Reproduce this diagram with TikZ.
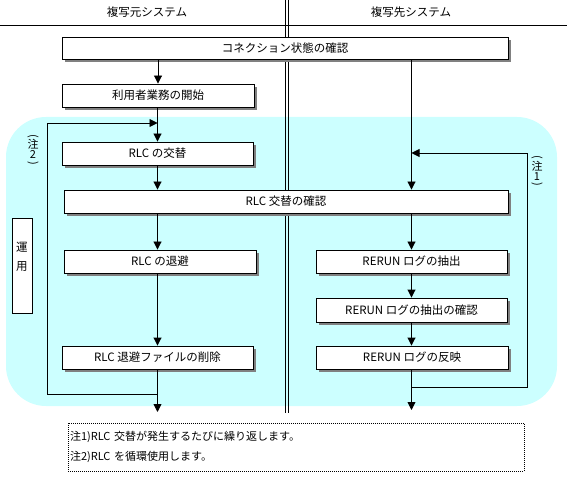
\documentclass[tikz,border=0pt]{standalone}
\usepackage{fontspec}
\setmainfont{Noto Sans CJK JP}
\usetikzlibrary{arrows.meta,shadows}
\definecolor{bgcyan}{HTML}{CCFFFF}
\definecolor{shadowgray}{HTML}{808080}
\newcommand{\vparl}{\rotatebox[origin=c]{-90}{(}}
\newcommand{\vparr}{\rotatebox[origin=c]{-90}{)}}
\begin{document}
\begin{tikzpicture}[x=1pt,y=-1pt,
  every node/.style={font=\fontsize{11.5}{13}\selectfont, inner sep=0pt},
  box/.style={draw=black, line width=0.9pt, fill=white,
    drop shadow={shadow xshift=3pt, shadow yshift=-3pt, fill=shadowgray, opacity=1}},
  ln/.style={line width=0.9pt},
  arr/.style={ln, -{Triangle[width=8pt,length=8pt]}},
  vtext/.style={align=center, font=\fontsize{11}{10}\selectfont},
]
\useasboundingbox (0,0) rectangle (567,478);
% background
\fill[bgcyan, rounded corners=40pt] (6,117) rectangle (557,406);
% header
\node (hL) at (147,12) {複写元システム};
\node (hR) at (411,12) {複写先システム};
\draw[ln] (0,25) -- (567,25);
\draw[line width=0.8pt] (285,0) -- (285,413);
\draw[line width=0.8pt] (288.5,0) -- (288.5,413);
% boxes
\node[box, minimum width=446pt, minimum height=22pt] (b1) at (285,48) {コネクション状態の確認};
\node[box, minimum width=192pt, minimum height=23pt] (b2) at (158,95.5) {利用者業務の開始};
\node[box, minimum width=191pt, minimum height=23pt] (b3) at (157.5,153.5) {RLC の交替};
\node[box, minimum width=444pt, minimum height=23pt] (b4) at (286,201.5) {RLC 交替の確認};
\node[box, minimum width=192pt, minimum height=23pt] (b5) at (160,261.5) {RLC の退避};
\node[box, minimum width=191pt, minimum height=23pt] (b6) at (157.5,357.5) {RLC 退避ファイルの削除};
\node[box, minimum width=191pt, minimum height=23pt] (b7) at (411.5,261.5) {RERUN ログの抽出};
\node[box, minimum width=191pt, minimum height=24pt] (b8) at (411.5,310) {RERUN ログの抽出の確認};
\node[box, minimum width=192pt, minimum height=23pt] (b9) at (412,357.5) {RERUN ログの反映};
\node[draw, ln, fill=white, minimum width=20pt, minimum height=95pt] (unyo) at (22,265.5) {};
\node[align=center, font=\fontsize{11.5}{19}\selectfont] (unyoT) at (22,257) {運\\用};
% side notes
\node[vtext] (n2) at (33,150.5) {\vparl\\[-1pt]注\\2\\[-2pt]\vparr};
\node[vtext] (n1) at (537,172) {\vparl\\[-1pt]注\\1\\[-2pt]\vparr};
% free ends
\coordinate (endL) at (157.5,412);
\coordinate (endR) at (411.5,410);
\coordinate (lpL1) at (47,394);
\coordinate (lpL2) at (47,123);
\coordinate (lpR1) at (527,387);
\coordinate (lpR2) at (527,153);
% left column
\draw[arr] (b1.south -| b2.north) -- (b2.north);
\draw[arr] (b2.south -| b3.north) -- (b3.north);
\draw[arr] (b3.south) -- (b3.south |- b4.north);
\draw[arr] (b4.south -| b3.south) -- (b5.north -| b3.south);
\draw[arr] (b5.south -| b6.north) -- (b6.north);
\draw[arr] (b6.south) -- (endL);
\draw[arr] (b6.south |- lpL1) -- (lpL1) -- (lpL2) -- (b3.north |- lpL2);
% right column
\draw[arr] (b1.south -| b7.north) -- (b4.north -| b7.north);
\draw[arr] (b4.south -| b7.north) -- (b7.north);
\draw[arr] (b7.south) -- (b8.north);
\draw[arr] (b8.south) -- (b8.south |- b9.north);
\draw[arr] (b9.south -| endR) -- (endR);
\draw[arr] (endR |- lpR1) -- (lpR1) -- (lpR2) -- (b7.north |- lpR2);
% note box
\node[draw, line width=0.8pt, dash pattern=on 1pt off 1pt, minimum width=456pt, minimum height=48pt,
  text width=452pt, align=left, inner xsep=2pt, font=\fontsize{11}{20}\selectfont] (note) at (296,447)
  {注1)RLC 交替が発生するたびに繰り返します。\\注2)RLC を循環使用します。};
\end{tikzpicture}
\end{document}
